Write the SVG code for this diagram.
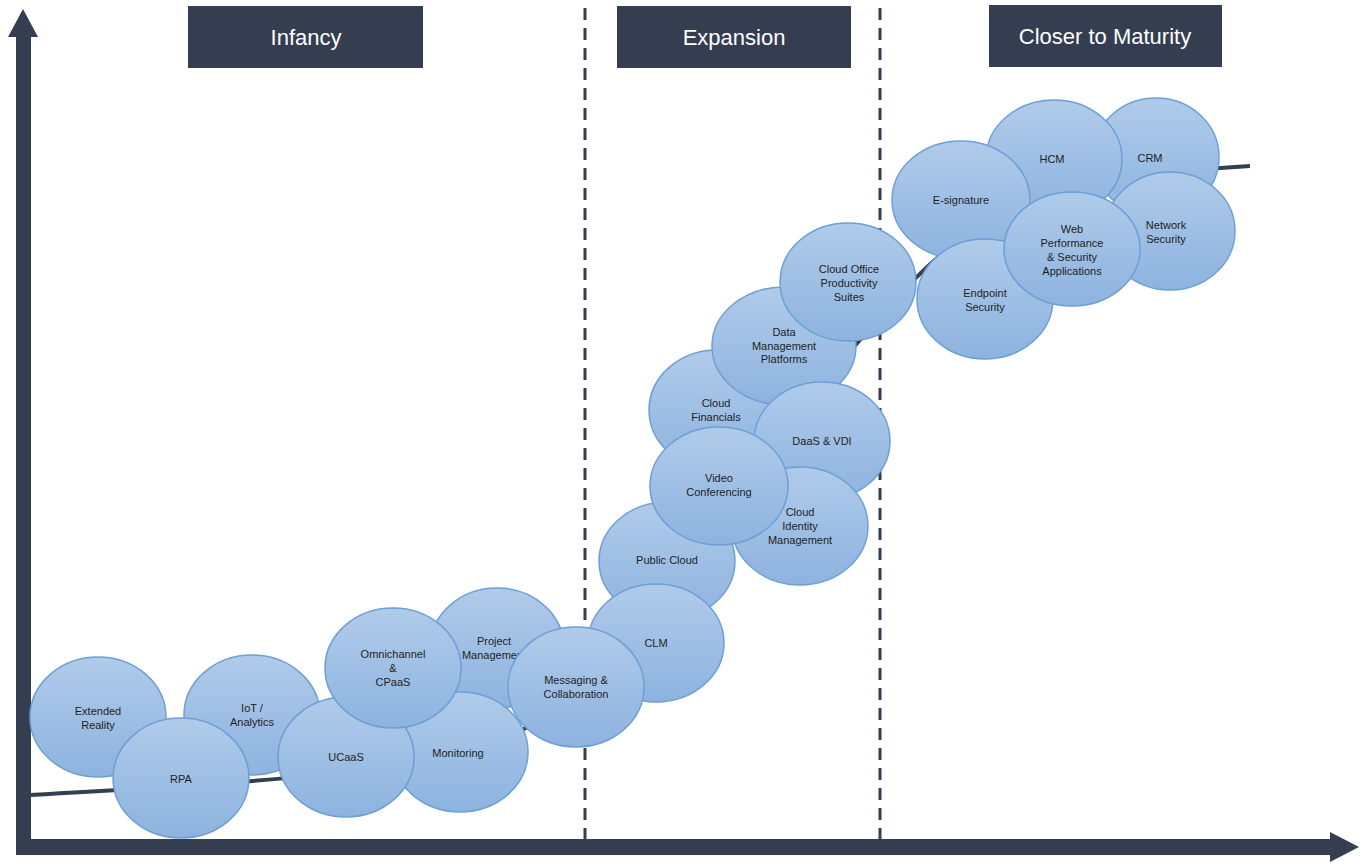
<svg xmlns="http://www.w3.org/2000/svg" width="1364" height="866" viewBox="0 0 1364 866">
  <defs>
    <linearGradient id="bubble" x1="0" y1="0" x2="0" y2="1">
      <stop offset="0" stop-color="#b0cbea"/>
      <stop offset="1" stop-color="#8db3df"/>
    </linearGradient>
    <style>
      .hdr rect { fill: #343e50; }
      .hdr text { fill: #ffffff; font-family: "Liberation Sans", Arial, sans-serif; font-size: 22px; text-anchor: middle; }
      .node ellipse { fill: url(#bubble); stroke: #6d9fd5; stroke-width: 1.5; }
      .node text { fill: #1e1e1e; font-family: "Liberation Sans", Arial, sans-serif; font-size: 11px; text-anchor: middle; }
      .axis { fill: #343e50; }
      .phase { stroke: #343e50; stroke-width: 3; stroke-dasharray: 12 8; fill: none; }
      .curve { stroke: #343e50; stroke-width: 4; fill: none; }
    </style>
  </defs>

  <rect width="1364" height="866" fill="#ffffff"/>

  <!-- axes -->
  <g id="axes">
    <polygon class="axis" points="16,855 16,37 8,37 23,9 38,37 31,37 31,839 1330,839 1330,832 1359,847 1330,862 1330,855"/>
  </g>

  <!-- phase separators -->
  <g id="separators">
    <line class="phase" x1="585" y1="8" x2="585" y2="840"/>
    <line class="phase" x1="880" y1="8" x2="880" y2="840"/>
  </g>

  <!-- phase headers -->
  <g id="hdr-infancy" class="hdr">
    <rect x="188" y="6" width="235" height="62"/>
    <text x="306" y="45">Infancy</text>
  </g>
  <g id="hdr-expansion" class="hdr">
    <rect x="617" y="6" width="234" height="62"/>
    <text x="734" y="45">Expansion</text>
  </g>
  <g id="hdr-maturity" class="hdr">
    <rect x="989" y="5" width="233" height="62"/>
    <text x="1105" y="44">Closer to Maturity</text>
  </g>

  <!-- adoption curve -->
  <g id="connectors">
    <path class="curve" d="M30,795 C300,780 460,770 540,720 C640,660 780,430 860,340 C900,295 930,255 990,220 C1060,180 1150,172 1250,166"/>
  </g>

  <!-- infancy -->
  <g id="n-extended-reality" class="node">
    <ellipse cx="98" cy="717" rx="68" ry="60"/>
    <text x="98" y="715">Extended</text>
    <text x="98" y="729">Reality</text>
  </g>
  <g id="n-iot" class="node">
    <ellipse cx="252" cy="715" rx="68" ry="60"/>
    <text x="252" y="712">IoT /</text>
    <text x="252" y="726">Analytics</text>
  </g>
  <g id="n-rpa" class="node">
    <ellipse cx="181" cy="778" rx="68" ry="60"/>
    <text x="181" y="783">RPA</text>
  </g>
  <g id="n-project" class="node">
    <ellipse cx="497" cy="648" rx="67" ry="60"/>
    <text x="494" y="645">Project</text>
    <text x="494" y="659">Management</text>
  </g>
  <g id="n-monitoring" class="node">
    <ellipse cx="460" cy="752" rx="68" ry="60"/>
    <text x="458" y="757">Monitoring</text>
  </g>
  <g id="n-ucaas" class="node">
    <ellipse cx="346" cy="757" rx="68" ry="60"/>
    <text x="346" y="761">UCaaS</text>
  </g>
  <g id="n-omnichannel" class="node">
    <ellipse cx="393" cy="668" rx="68" ry="60"/>
    <text x="393" y="658">Omnichannel</text>
    <text x="393" y="672">&amp;</text>
    <text x="393" y="686">CPaaS</text>
  </g>

  <!-- expansion -->
  <g id="n-public-cloud" class="node">
    <ellipse cx="667" cy="561" rx="68" ry="59"/>
    <text x="667" y="564">Public Cloud</text>
  </g>
  <g id="n-clm" class="node">
    <ellipse cx="656" cy="643" rx="68" ry="59"/>
    <text x="656" y="647">CLM</text>
  </g>
  <g id="n-messaging" class="node">
    <ellipse cx="576" cy="687" rx="68" ry="60"/>
    <text x="576" y="684">Messaging &amp;</text>
    <text x="576" y="698">Collaboration</text>
  </g>
  <g id="n-cloud-financials" class="node">
    <ellipse cx="717" cy="410" rx="68" ry="60"/>
    <text x="716" y="407">Cloud</text>
    <text x="716" y="421">Financials</text>
  </g>
  <g id="n-data-mgmt" class="node">
    <ellipse cx="784" cy="346" rx="72" ry="59"/>
    <text x="784" y="336">Data</text>
    <text x="784" y="350">Management</text>
    <text x="784" y="363">Platforms</text>
  </g>
  <g id="n-cloud-office" class="node">
    <ellipse cx="848" cy="282" rx="68" ry="59"/>
    <text x="849" y="273">Cloud Office</text>
    <text x="849" y="287">Productivity</text>
    <text x="849" y="301">Suites</text>
  </g>
  <g id="n-daas" class="node">
    <ellipse cx="822" cy="441" rx="68" ry="59"/>
    <text x="822" y="445">DaaS &amp; VDI</text>
  </g>
  <g id="n-cloud-identity" class="node">
    <ellipse cx="800" cy="526" rx="68" ry="59"/>
    <text x="800" y="516">Cloud</text>
    <text x="800" y="530">Identity</text>
    <text x="800" y="544">Management</text>
  </g>
  <g id="n-video" class="node">
    <ellipse cx="719" cy="486" rx="69" ry="59"/>
    <text x="719" y="482">Video</text>
    <text x="719" y="496">Conferencing</text>
  </g>

  <!-- closer to maturity -->
  <g id="n-crm" class="node">
    <ellipse cx="1156" cy="157" rx="63" ry="59"/>
    <text x="1150" y="162">CRM</text>
  </g>
  <g id="n-hcm" class="node">
    <ellipse cx="1054" cy="159" rx="68" ry="59"/>
    <text x="1052" y="163">HCM</text>
  </g>
  <g id="n-esignature" class="node">
    <ellipse cx="961" cy="200" rx="69" ry="59"/>
    <text x="961" y="204">E-signature</text>
  </g>
  <g id="n-network-security" class="node">
    <ellipse cx="1170" cy="231" rx="65" ry="59"/>
    <text x="1166" y="229">Network</text>
    <text x="1166" y="243">Security</text>
  </g>
  <g id="n-endpoint" class="node">
    <ellipse cx="985" cy="299" rx="68" ry="60"/>
    <text x="985" y="297">Endpoint</text>
    <text x="985" y="311">Security</text>
  </g>
  <g id="n-web-perf" class="node">
    <ellipse cx="1072" cy="249" rx="68" ry="57"/>
    <text x="1072" y="233">Web</text>
    <text x="1072" y="247">Performance</text>
    <text x="1072" y="261">&amp; Security</text>
    <text x="1072" y="275">Applications</text>
  </g>
</svg>
